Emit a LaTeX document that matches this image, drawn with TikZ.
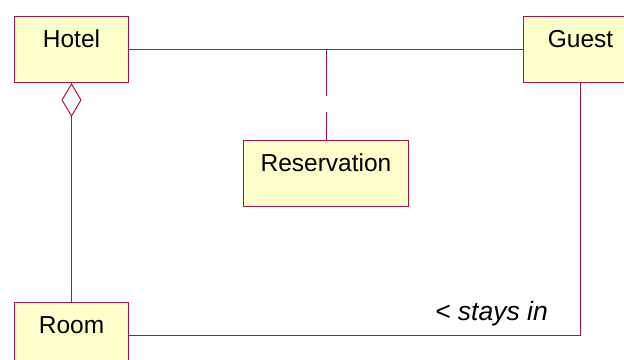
\documentclass[tikz,border=0pt]{standalone}
\usepackage{fontspec}
\setmainfont{Liberation Sans}
\usetikzlibrary{arrows.meta}
\definecolor{umlline}{RGB}{170,20,72}
\definecolor{umlfill}{RGB}{255,255,204}
\begin{document}
\begin{tikzpicture}[x=1bp,y=-1bp,
  classbox/.style={draw=umlline, fill=umlfill, line width=1bp, inner sep=0pt,
    minimum width=114bp, text height=31bp, text depth=35bp, anchor=north west,
    font=\fontsize{24.5bp}{28bp}\selectfont},
  conn/.style={draw=umlline, line width=1bp}]
\useasboundingbox (0,0) rectangle (624,359);
\node[classbox] (hotel) at (14,16) {Hotel};
\node[classbox] (guest) at (523,16) {Guest};
\node[classbox, minimum width=165bp] (reservation) at (243,140) {Reservation};
\node[classbox] (room) at (14,302) {Room};
\draw[conn] (hotel.east) -- (guest.west);
\coordinate (rlink) at (reservation.north |- hotel.east);
\draw[conn, dash pattern=on 46bp off 16bp on 60bp] (rlink) -- (reservation.north);
\draw[conn, {Diamond[open, length=34bp, width=20bp, line width=1bp]}-] (hotel.south) -- (room.north);
\draw[conn] (room.east) -| (guest.south);
\node[font=\fontsize{26.5bp}{30bp}\selectfont\itshape, anchor=base] (stays) at (491.5,320) {< stays in};
\end{tikzpicture}
\end{document}
